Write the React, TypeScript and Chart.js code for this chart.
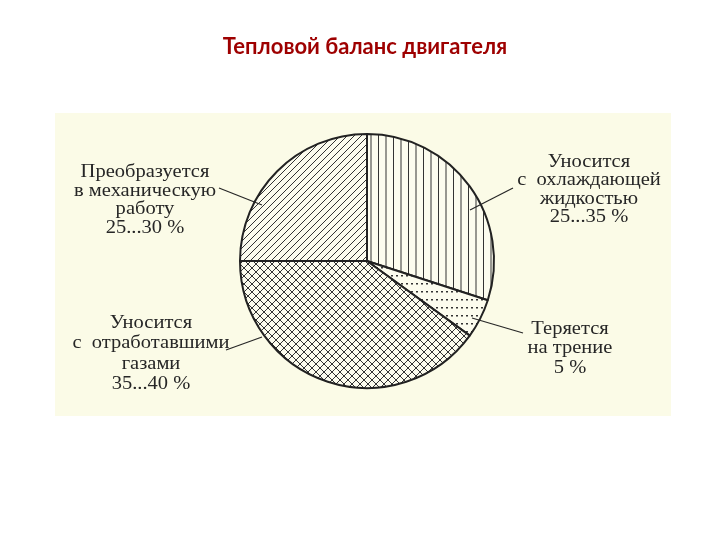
import React, { useEffect, useRef } from "react";
import { Chart, registerables } from "chart.js";

Chart.register(...registerables);

// ---------- data ----------
const TITLE = "Тепловой баланс двигателя";
const categories = [
  "Уносится с охлаждающей жидкостью",
  "Теряется на трение",
  "Уносится с отработавшими газами",
  "Преобразуется в механическую работу",
];
const shares = [30, 5, 40, 25];
const coolingLines = ["Уносится", "с  охлаждающей", "жидкостью", "25...35 %"];
const frictionLines = ["Теряется", "на трение", "5 %"];
const exhaustLines = ["Уносится", "с  отработавшими", "газами", "35...40 %"];
const workLines = ["Преобразуется", "в механическую", "работу", "25...30 %"];
const labelLines = [coolingLines, frictionLines, exhaustLines, workLines];

// ---------- layout / style ----------
const CREAM = "#fbfbe7";
const PIE_BG = "#fcfcee";
const INK = "#262626";
const TITLE_COLOR = "#9e0000";
const PANEL = { x: 55, y: 113, w: 616, h: 303 };
const LABEL_FONT = "18px 'Liberation Serif', 'DejaVu Serif', serif";
const LABEL_STRETCH = 1.14;
// label block: centre x offset, first line y offset, line height (relative to pie centre)
const labelLayout = [
  { dx: 222, dy: -99, lh: 18.5 },
  { dx: 203, dy: 68, lh: 19.5 },
  { dx: -216, dy: 62, lh: 20.5 },
  { dx: -222, dy: -89, lh: 18.8 },
];
// leader lines: outer point -> inner point (relative to pie centre)
const leaderLayout = [
  { ox: 146, oy: -73, ix: 103, iy: -51 },
  { ox: 156, oy: 72, ix: 105, iy: 57 },
  { ox: -141, oy: 89, ix: -105, iy: 76 },
  { ox: -148, oy: -73, ix: -105, iy: -56 },
];

function makePattern(w: number, h: number, draw: (c: CanvasRenderingContext2D, w: number, h: number) => void) {
  const cv = document.createElement("canvas");
  cv.width = w;
  cv.height = h;
  const c = cv.getContext("2d")!;
  c.fillStyle = PIE_BG;
  c.fillRect(0, 0, w, h);
  c.strokeStyle = "#333";
  c.fillStyle = "#333";
  c.lineWidth = 1;
  draw(c, w, h);
  return c.createPattern(cv, "repeat")!;
}

function buildPatterns() {
  const vertical = makePattern(15, 4, (c, w, h) => {
    c.beginPath();
    c.moveTo(3.5, 0); c.lineTo(3.5, h);
    c.moveTo(11, 0); c.lineTo(11, h);
    c.stroke();
  });
  const dots = makePattern(5, 8, (c) => {
    c.fillRect(1, 3, 2, 1.5);
  });
  const cross = makePattern(8, 8, (c, w, h) => {
    c.beginPath();
    c.moveTo(-1, -1); c.lineTo(w + 1, h + 1);
    c.moveTo(-1, h + 1); c.lineTo(w + 1, -1);
    c.stroke();
  });
  const diag = makePattern(7, 7, (c, w, h) => {
    c.beginPath();
    c.moveTo(-1, h + 1); c.lineTo(w + 1, -1);
    c.moveTo(-2, 1); c.lineTo(1, -2);
    c.moveTo(w - 1, h + 2); c.lineTo(w + 2, h - 1);
    c.stroke();
  });
  return [vertical, dots, cross, diag];
}

const decorPlugin = {
  id: "decor",
  beforeDraw(chart: any) {
    const ctx = chart.ctx as CanvasRenderingContext2D;
    ctx.save();
    ctx.fillStyle = "#ffffff";
    ctx.fillRect(0, 0, chart.width, chart.height);
    ctx.fillStyle = CREAM;
    ctx.fillRect(PANEL.x, PANEL.y, PANEL.w, PANEL.h);
    ctx.fillStyle = TITLE_COLOR;
    ctx.font = "bold 22px Lato, 'Open Sans', sans-serif";
    ctx.textAlign = "center";
    ctx.textBaseline = "middle";
    ctx.fillText(TITLE, 365, 47);
    ctx.restore();
  },
  afterDraw(chart: any) {
    const ctx = chart.ctx as CanvasRenderingContext2D;
    const arc = chart.getDatasetMeta(0).data[0];
    if (!arc) return;
    const cx = arc.x;
    const cy = arc.y;
    ctx.save();
    ctx.strokeStyle = INK;
    ctx.lineWidth = 1.2;
    leaderLayout.forEach((l) => {
      ctx.beginPath();
      ctx.moveTo(cx + l.ox, cy + l.oy);
      ctx.lineTo(cx + l.ix, cy + l.iy);
      ctx.stroke();
    });
    ctx.fillStyle = INK;
    ctx.font = LABEL_FONT;
    ctx.textAlign = "center";
    ctx.textBaseline = "middle";
    labelLines.forEach((lines, i) => {
      const p = labelLayout[i];
      lines.forEach((t, j) => {
        ctx.save();
        ctx.translate(cx + p.dx, cy + p.dy + j * p.lh);
        ctx.scale(LABEL_STRETCH, 1);
        ctx.fillText(t, 0, 0);
        ctx.restore();
      });
    });
    ctx.restore();
  },
};

export default function App() {
  const ref = useRef<HTMLCanvasElement | null>(null);
  useEffect(() => {
    if (!ref.current) return;
    const patterns = buildPatterns();
    const chart = new Chart(ref.current, {
      type: "pie",
      data: {
        labels: categories,
        datasets: [
          {
            data: shares,
            backgroundColor: patterns as any,
            borderColor: "#222222",
            borderWidth: 2,
          },
        ],
      },
      options: {
        animation: false,
        responsive: true,
        maintainAspectRatio: false,
        radius: 127,
        rotation: 0,
        layout: { padding: { left: 217, right: 203, top: 111, bottom: 129 } },
        plugins: {
          legend: { display: false },
          tooltip: { enabled: false },
          title: { display: false },
        },
      } as any,
      plugins: [decorPlugin],
    });
    return () => chart.destroy();
  }, []);
  return (
    <div style={{ position: "absolute", left: 0, top: 0, width: 720, height: 540, background: "#fff" }}>
      <canvas ref={ref} />
    </div>
  );
}
